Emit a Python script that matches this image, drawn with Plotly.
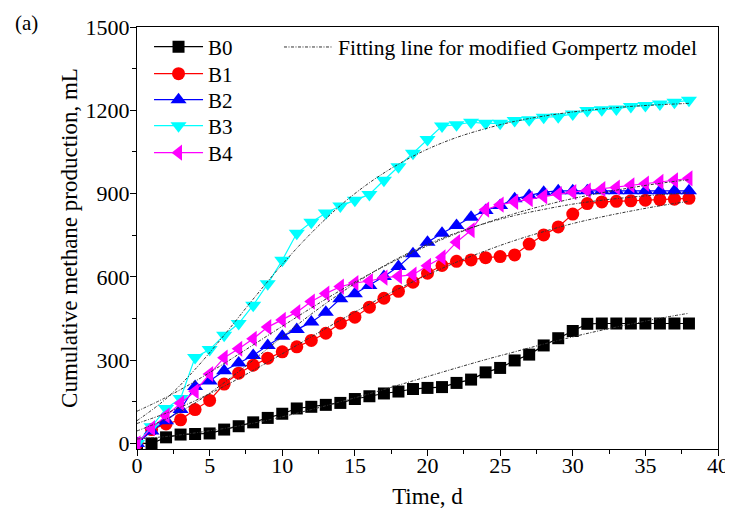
import plotly.graph_objects as go

days = list(range(0, 39))

B0 = [0, 0, 22, 32, 34, 36, 50, 62, 76, 92, 107, 126, 132, 139, 146, 160, 170, 180, 187, 196,
      200, 203, 218, 230, 256, 272, 299, 320, 353, 379, 405, 431, 432, 432, 432, 432, 432, 432, 432]
B1 = [0, 50, 70, 85, 122, 155, 214, 253, 282, 307, 330, 348, 371, 397, 433, 455, 491, 523, 548, 581,
      613, 641, 656, 661, 669, 673, 679, 718, 751, 780, 826, 864, 870, 872, 874, 876, 878, 880, 883]
B2 = [0, 45, 82, 122, 205, 225, 262, 290, 317, 353, 386, 410, 437, 473, 521, 539, 569, 601, 637, 683,
      725, 757, 785, 815, 839, 857, 881, 893, 905, 910, 910, 910, 910, 910, 910, 910, 910, 910, 910]
B3 = [0, 60, 126, 162, 310, 338, 390, 432, 498, 575, 660, 757, 797, 830, 855, 876, 897, 948, 997, 1045,
      1095, 1143, 1148, 1157, 1153, 1153, 1163, 1166, 1175, 1177, 1187, 1199, 1202, 1205, 1214, 1217, 1223, 1229, 1236]
B4 = [0, 55, 100, 145, 188, 250, 309, 341, 377, 419, 445, 473, 511, 540, 565, 578, 585, 597, 602, 608,
      640, 670, 725, 768, 842, 860, 870, 880, 890, 898, 905, 911, 916, 922, 930, 936, 942, 948, 955]

fit_days = list(range(0, 39, 2))
F0 = [16, 25, 38, 54, 73, 96, 122, 150, 179, 210, 241, 272, 302, 330, 358, 384, 408, 430, 451, 469]
F1 = [72, 109, 154, 206, 263, 323, 384, 444, 502, 557, 607, 653, 694, 731, 763, 792, 816, 837, 856, 872]
F2 = [45, 88, 146, 219, 300, 384, 466, 541, 609, 668, 717, 759, 793, 821, 843, 862, 876, 887, 896, 903]
F3 = [82, 161, 267, 390, 520, 645, 758, 857, 939, 1006, 1060, 1102, 1134, 1160, 1179, 1194, 1205, 1214, 1220, 1225]
F4 = [116, 166, 224, 288, 355, 422, 488, 551, 610, 664, 712, 756, 794, 828, 857, 882, 903, 921, 937, 950]

names = ["B0", "B1", "B2", "B3", "B4"]
series = [B0, B1, B2, B3, B4]
fits = [F0, F1, F2, F3, F4]
colors = ["#000000", "#FF0000", "#0000FF", "#00FFFF", "#FF00FF"]
symbols = ["square", "circle", "triangle-up", "triangle-down", "triangle-left"]
sizes = [12, 13, 14, 14, 14]
legend_ids = ["legend", "legend3", "legend4", "legend5", "legend6"]
legend_y = [0.9526, 0.8886, 0.827, 0.7654, 0.7014]

FONT = "Liberation Serif, Times New Roman, serif"
LEG_FONT = dict(size=21, family=FONT, color="black")

fig = go.Figure()
for n, s, c, sym, sz, lid in zip(names, series, colors, symbols, sizes, legend_ids):
    fig.add_trace(go.Scatter(
        x=days, y=s, name=n, mode="lines+markers",
        line=dict(color=c, width=1.2),
        marker=dict(symbol=sym, size=sz, color=c, line=dict(width=0)),
        legend=lid, showlegend=True,
    ))

for i, f in enumerate(fits):
    fig.add_trace(go.Scatter(
        x=fit_days, y=f, mode="lines", line_shape="spline",
        name="Fitting line for modified Gompertz model",
        line=dict(color="#333333", width=1, dash="3px,1.5px,1px,1.5px"),
        showlegend=(i == 0), legend="legend2",
    ))

layout_legends = {}
for lid, ly in zip(legend_ids, legend_y):
    layout_legends[lid] = dict(x=0.0207, y=ly, xanchor="left", yanchor="middle",
                               bgcolor="rgba(0,0,0,0)", font=LEG_FONT, itemwidth=49)
layout_legends["legend2"] = dict(x=0.2444, y=0.9526, xanchor="left", yanchor="middle",
                                 bgcolor="rgba(0,0,0,0)",
                                 font=dict(size=21.5, family=FONT, color="black"), itemwidth=49)

# the page body adds an 8px offset, so the figure is sized to the remaining window
fig.update_layout(
    width=725, height=511,
    margin=dict(l=129, r=15, t=19, b=70, autoexpand=False),
    showlegend=True,
    paper_bgcolor="white", plot_bgcolor="white",
    font=dict(family=FONT, size=20, color="black"),
    annotations=[dict(text="(a)", x=-0.2134, y=1.043, xref="paper", yref="paper",
                      xanchor="left", yanchor="top", showarrow=False,
                      font=dict(size=21, family=FONT))],
    **layout_legends,
)

fig.update_xaxes(
    range=[0, 40], tickvals=[0, 5, 10, 15, 20, 25, 30, 35, 40],
    ticks="outside", ticklen=6, tickwidth=1.3, tickcolor="black",
    minor=dict(dtick=2.5, tick0=0, ticks="outside", ticklen=4, tickwidth=1.1, tickcolor="black"),
    showline=True, linecolor="black", linewidth=1.4, mirror=True,
    showgrid=False, zeroline=False, automargin=False,
    tickfont=dict(size=22, family=FONT), ticklabelstandoff=-10,
    title=dict(text="Time, d", font=dict(size=23, family=FONT), standoff=11),
)
fig.update_yaxes(
    range=[-20, 1500], tickvals=[0, 300, 600, 900, 1200, 1500],
    ticks="outside", ticklen=6, tickwidth=1.3, tickcolor="black",
    minor=dict(dtick=150, tick0=0, ticks="outside", ticklen=4, tickwidth=1.1, tickcolor="black"),
    showline=True, linecolor="black", linewidth=1.4, mirror=True,
    showgrid=False, zeroline=False, automargin=False,
    tickfont=dict(size=22, family=FONT), ticklabelstandoff=-4,
    title=dict(text="Cumulative methane production, mL", font=dict(size=23, family=FONT), standoff=1),
)

fig.write_html("out.html")
